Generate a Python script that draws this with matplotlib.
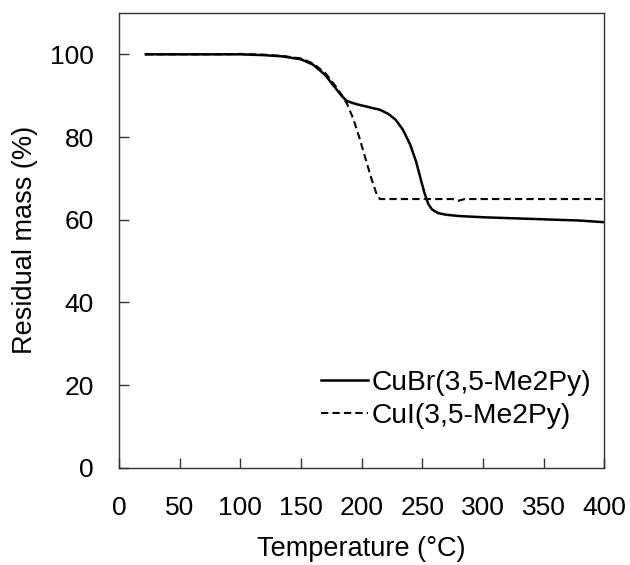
import matplotlib
matplotlib.use("Agg")
import matplotlib.pyplot as plt

# TGA 数据
temp_br = [22, 40, 60, 80, 100, 120, 135, 150, 160, 170, 178, 184, 188, 195, 205,
           215, 222, 228, 234, 240, 245, 249, 252, 255, 258, 263, 270, 280, 300,
           320, 350, 380, 400]
mass_br = [100, 100, 100, 100, 100, 99.8, 99.5, 98.8, 97.5, 95.0, 92.0, 89.8, 88.7,
           88.0, 87.3, 86.6, 85.6, 84.2, 81.8, 78.2, 74.0, 69.5, 66.3, 63.8, 62.5,
           61.6, 61.2, 60.9, 60.6, 60.4, 60.1, 59.8, 59.4]

temp_i = [22, 40, 60, 80, 100, 120, 135, 150, 160, 170, 178, 184, 188, 193, 198,
          203, 208, 212, 215, 230, 260, 275, 280, 285, 300, 350, 400]
mass_i = [100, 100, 100, 100, 100.1, 99.9, 99.6, 99.0, 97.8, 95.5, 92.5, 90.0, 88.0,
          84.5, 80.0, 75.0, 70.0, 66.5, 65.0, 65.0, 65.0, 65.0, 64.6, 65.0, 65.0,
          65.0, 65.0]

labels = ["CuBr(3,5-Me2Py)", "CuI(3,5-Me2Py)"]
x_ticks = [0, 50, 100, 150, 200, 250, 300, 350, 400]
y_ticks = [0, 20, 40, 60, 80, 100]

plt.rcParams["font.family"] = ["Liberation Sans", "DejaVu Sans"]

fig = plt.figure(figsize=(6.3, 5.65), dpi=100)
ax = fig.add_axes([0.189, 0.172, 0.77, 0.805])

ax.plot(temp_br, mass_br, color="black", linewidth=1.8, label=labels[0])
ax.plot(temp_i, mass_i, color="black", linewidth=1.5, linestyle=(0, (3.5, 2)), label=labels[1])

ax.set_xlim(0, 400)
ax.set_ylim(0, 110)
ax.set_xticks(x_ticks)
ax.set_yticks(y_ticks)
ax.tick_params(direction="in", length=7, width=1, labelsize=19,
               top=False, right=False, colors="#333333", labelcolor="black")
ax.tick_params(axis="x", pad=20)
ax.tick_params(axis="y", pad=18)
for sp in ax.spines.values():
    sp.set_color("#333333")
    sp.set_linewidth(1)

ax.set_xlabel("Temperature (°C)", fontsize=19.5, labelpad=12)
ax.set_ylabel("Residual mass (%)", fontsize=19.5, labelpad=9)

leg = ax.legend(loc="center right", bbox_to_anchor=(1.0, 0.15), frameon=False,
                fontsize=20.3, handlelength=1.65, handletextpad=0.15,
                labelspacing=0.25, borderaxespad=0, borderpad=0.45)

fig.savefig("out.png", dpi=100)
